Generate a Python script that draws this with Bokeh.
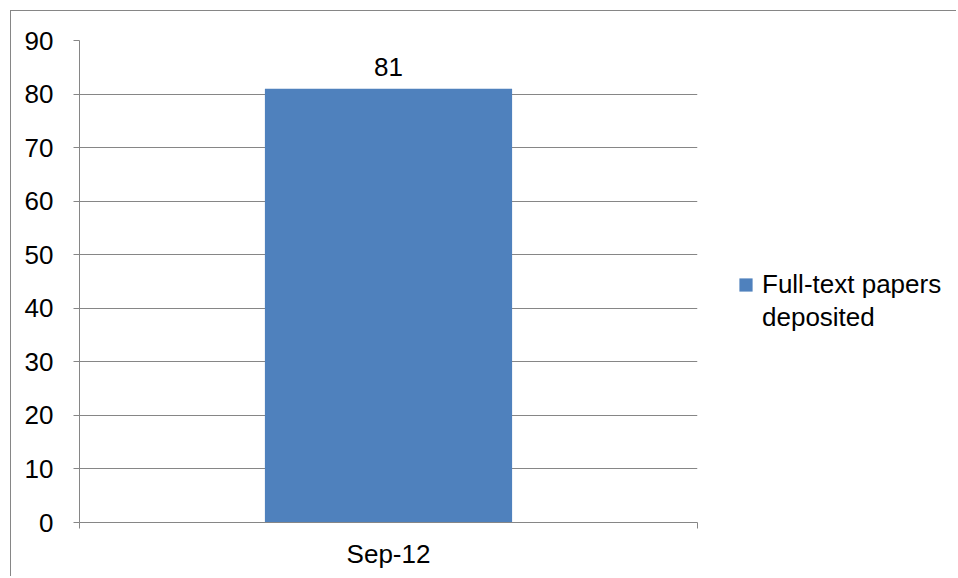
from bokeh.plotting import figure
from bokeh.layouts import row
from bokeh.models import Range1d, FixedTicker, Legend, LegendItem, CustomJSTickFormatter
from bokeh.core.properties import value
from bokeh.embed import file_html
from bokeh.resources import INLINE

categories = ["Sep-12"]
values = [81]
series_name_lines = ["Full-text papers", "deposited"]
y_ticks = [0, 10, 20, 30, 40, 50, 60, 70, 80, 90]

FONT = "Liberation Sans"
GRAY = "#868686"
BAR = "#4F81BD"
FS = "26px"
H = 565

xs = [i + 0.5 for i in range(len(categories))]

p = figure(width=696, height=H, output_backend="svg", toolbar_location=None,
           x_range=Range1d(0, len(categories)), y_range=Range1d(0, y_ticks[-1]),
           min_border_left=68, min_border_right=10, min_border_top=29, min_border_bottom=54)
p.outline_line_color = None
p.background_fill_color = "white"
p.border_fill_color = "white"

r = p.vbar(x=xs, top=values, width=0.4, fill_color=BAR, line_color=None)
p.text(x=xs, y=values, text=[str(v) for v in values], text_align="center",
       text_baseline="middle", y_offset=-22, text_color="black",
       text_font=value(FONT), text_font_size=value(FS))

# y axis
p.yaxis.ticker = FixedTicker(ticks=y_ticks)
p.yaxis.axis_line_color = GRAY
p.yaxis.major_tick_line_color = GRAY
p.yaxis.major_tick_out = 6
p.yaxis.major_tick_in = 0
p.yaxis.minor_tick_line_color = None
p.yaxis.major_label_standoff = 20
p.yaxis.major_label_text_font = FONT
p.yaxis.major_label_text_font_size = FS
p.yaxis.major_label_text_color = "black"

# x axis
p.xaxis.ticker = FixedTicker(ticks=xs, minor_ticks=list(range(len(categories) + 1)))
p.xaxis.formatter = CustomJSTickFormatter(args=dict(cats=categories),
                                          code="return cats[Math.floor(tick)] || '';")
p.xaxis.axis_line_color = GRAY
p.xaxis.major_tick_line_color = None
p.xaxis.major_tick_out = 0
p.xaxis.major_tick_in = 0
p.xaxis.minor_tick_line_color = GRAY
p.xaxis.minor_tick_out = 6
p.xaxis.minor_tick_in = 0
p.xaxis.major_label_standoff = 10
p.xaxis.major_label_text_font = FONT
p.xaxis.major_label_text_font_size = FS
p.xaxis.major_label_text_color = "black"

p.xgrid.visible = False
p.ygrid.ticker = FixedTicker(ticks=y_ticks)
p.ygrid.grid_line_color = GRAY
p.ygrid.grid_line_width = 1

# legend panel as a separate figure (so the legend is not clipped);
# zero-size markers there only serve the legend swatch
lw = 249
lf = figure(width=lw, height=H, output_backend="svg", toolbar_location=None,
            x_range=Range1d(0, 1), y_range=Range1d(0, 1),
            min_border_left=0, min_border_right=0, min_border_top=0, min_border_bottom=0)
lf.axis.visible = False
lf.grid.visible = False
lf.outline_line_color = None
lf.background_fill_color = "white"
lf.border_fill_color = "white"
lr = lf.scatter(x=xs, y=values, size=0, marker="square", fill_color=BAR, line_color=None)
lr2 = lf.scatter(x=xs, y=values, size=0, marker="square", fill_alpha=0, line_alpha=0)
legend = Legend(items=[LegendItem(label=series_name_lines[0], renderers=[lr]),
                       LegendItem(label=series_name_lines[1], renderers=[lr2])],
                location=(22, 188), margin=0, padding=0, spacing=-2,
                border_line_color=None, background_fill_alpha=0,
                glyph_width=33, glyph_height=33, label_standoff=-3,
                label_text_font=FONT, label_text_font_size=FS,
                label_text_color="black")
lf.add_layout(legend)

layout = row(p, lf, spacing=0)
layout.margin = (10, 0, 0, 10)
layout.styles = {"border-left": "1px solid " + GRAY, "border-top": "1px solid " + GRAY}

open("out.html", "w").write(file_html(layout, INLINE))
